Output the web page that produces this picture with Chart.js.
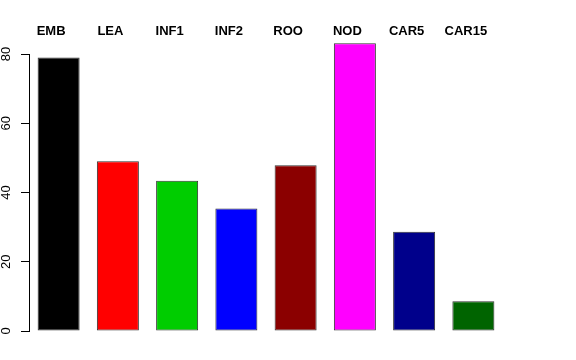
<!DOCTYPE html>
<html>
<head>
<meta charset="utf-8">
<script src="https://cdn.jsdelivr.net/npm/chart.js@4"></script>
<style>
  html, body { margin: 0; padding: 0; background: #fff; }
  #wrap { width: 576px; height: 360px; }
</style>
</head>
<body>
<div id="wrap"><canvas id="barChart" width="576" height="360"></canvas></div>
<script>
const categories = ['EMB', 'LEA', 'INF1', 'INF2', 'ROO', 'NOD', 'CAR5', 'CAR15'];
const values = [79.0, 49.0, 43.4, 35.4, 47.9, 83.1, 28.7, 8.6];
const barColors = ['#000000', '#FF0000', '#00CD00', '#0000FF', '#8B0000', '#FF00FF', '#00008B', '#006400'];
const yTicks = [0, 20, 40, 60, 80];

const ctx = document.getElementById('barChart');
new Chart(ctx, {
  type: 'bar',
  data: {
    labels: categories,
    datasets: [{
      data: values,
      backgroundColor: barColors,
      borderColor: '#333333',
      borderWidth: 1,
      borderSkipped: false,
      categoryPercentage: 1,
      barPercentage: 0.709,
      clip: false
    }]
  },
  options: {
    responsive: false,
    animation: false,
    layout: { padding: { top: 0, right: 73, bottom: 29, left: 0 } },
    plugins: { legend: { display: false }, tooltip: { enabled: false } },
    scales: {
      x: {
        position: 'top',
        grid: { display: false },
        border: { display: false },
        ticks: {
          color: '#000',
          padding: 7,
          labelOffset: -7.5,
          maxRotation: 0,
          autoSkip: false,
          font: { family: 'Liberation Sans, Arial, sans-serif', size: 13, weight: 'bold' }
        },
        afterFit: scale => { scale.height = 54; }
      },
      y: {
        min: yTicks[0],
        max: yTicks[yTicks.length - 1],
        afterBuildTicks: scale => { scale.ticks = yTicks.map(v => ({ value: v })); },
        grid: { drawOnChartArea: false, drawTicks: true, tickLength: 8, color: '#000', lineWidth: 1 },
        border: { display: true, color: '#000', width: 1 },
        ticks: {
          color: '#000',
          padding: 7,
          minRotation: 90,
          maxRotation: 90,
          crossAlign: 'center',
          font: { family: 'Liberation Sans, Arial, sans-serif', size: 13 }
        },
        afterFit: scale => { scale.width = 29; }
      }
    }
  }
});
</script>
</body>
</html>
